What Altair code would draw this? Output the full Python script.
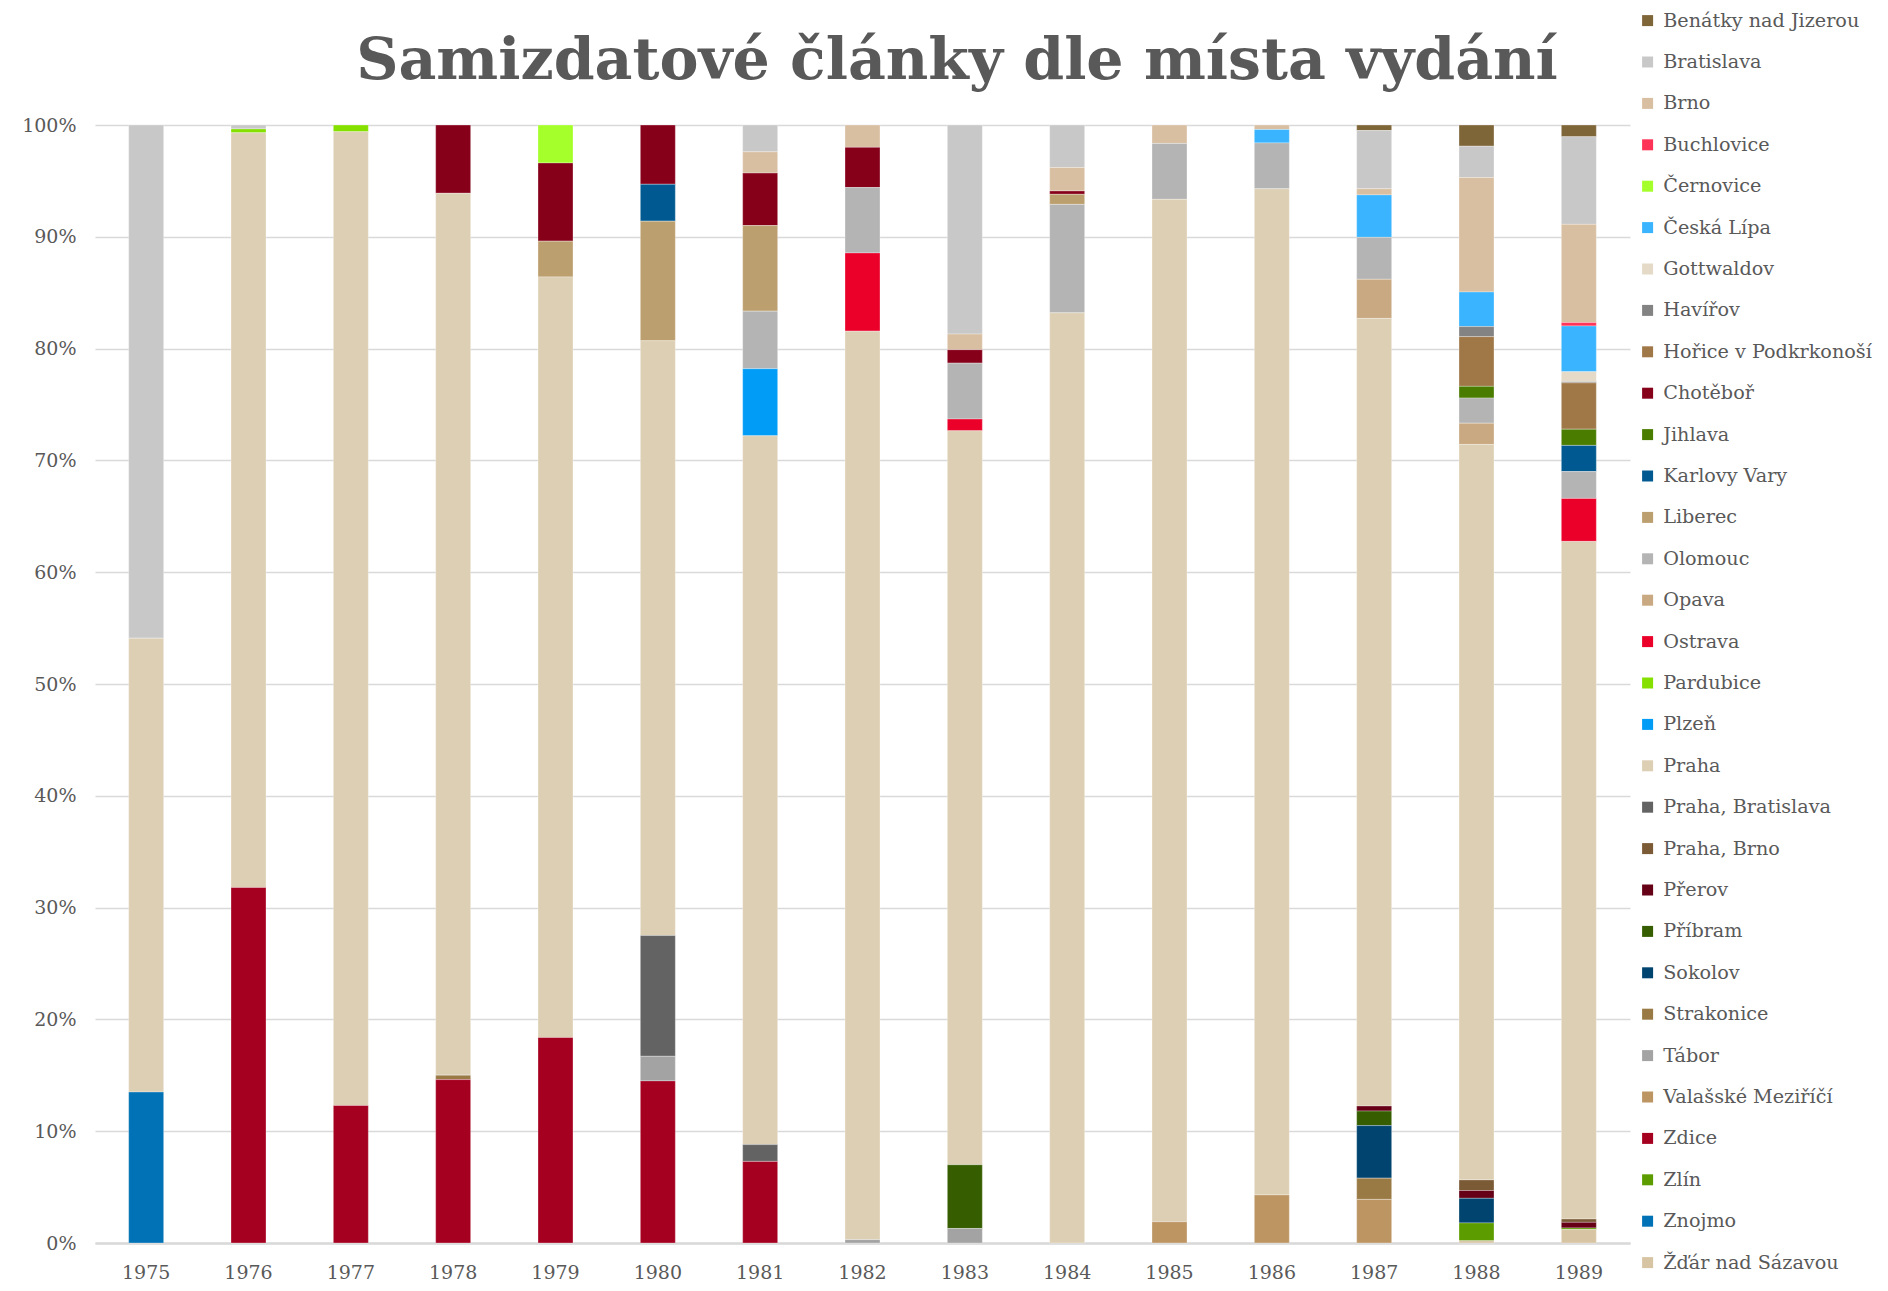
import altair as alt
import pandas as pd

years = [str(y) for y in range(1975, 1990)]

cities = [
    "Benátky nad Jizerou", "Bratislava", "Brno", "Buchlovice", "Černovice",
    "Česká Lípa", "Gottwaldov", "Havířov", "Hořice v Podkrkonoší", "Chotěboř",
    "Jihlava", "Karlovy Vary", "Liberec", "Olomouc", "Opava", "Ostrava",
    "Pardubice", "Plzeň", "Praha", "Praha, Bratislava", "Praha, Brno",
    "Přerov", "Příbram", "Sokolov", "Strakonice", "Tábor",
    "Valašské Meziříčí", "Zdice", "Zlín", "Znojmo", "Žďár nad Sázavou",
]

colors = [
    "#7F6639", "#C8C8C8", "#D8BFA2", "#FF3358", "#A5FF2A",
    "#3AB4FF", "#E5DAC7", "#838383", "#A07848", "#86001A",
    "#4A7C00", "#005A91", "#BC9F6E", "#B3B4B3", "#C8A982", "#EB002A",
    "#85E000", "#009CF6", "#DDCFB4", "#636363", "#7B5B36",
    "#650016", "#365E00", "#00446F", "#997A45", "#A3A3A3",
    "#BC9563", "#A60021", "#5C9C00", "#0072B5", "#D7C4A3",
]

title_text = "Samizdatové články dle místa vydání"

# share of articles (%) per year 1975..1989
benatky      = [0, 0, 0, 0, 0, 0, 0, 0, 0, 0, 0, 0, 0.5, 1.9, 1.05]
bratislava   = [45.9, 0.35, 0, 0, 0, 0, 2.4, 0, 18.7, 3.8, 0, 0, 5.2, 2.8, 7.85]
brno         = [0, 0, 0, 0, 0, 0, 1.9, 2.0, 1.4, 2.1, 1.65, 0.4, 0.55, 10.25, 8.8]
buchlovice   = [0, 0, 0, 0, 0, 0, 0, 0, 0, 0, 0, 0, 0, 0, 0.3]
cernovice    = [0, 0, 0, 0, 3.4, 0, 0, 0, 0, 0, 0, 0, 0, 0, 0]
ceska_lipa   = [0, 0, 0, 0, 0, 0, 0, 0, 0, 0, 0, 1.2, 3.8, 3.1, 4.1]
gottwaldov   = [0, 0, 0, 0, 0, 0, 0, 0, 0, 0, 0, 0, 0, 0, 0.9]
havirov      = [0, 0, 0, 0, 0, 0, 0, 0, 0, 0, 0, 0, 0, 0.9, 0.1]
horice       = [0, 0, 0, 0, 0, 0, 0, 0, 0, 0, 0, 0, 0, 4.45, 4.15]
chotebor     = [0, 0, 0, 6.1, 7.0, 5.3, 4.7, 3.6, 1.2, 0.3, 0, 0, 0, 0, 0]
jihlava      = [0, 0, 0, 0, 0, 0, 0, 0, 0, 0, 0, 0, 0, 1.05, 1.45]
karlovy_vary = [0, 0, 0, 0, 0, 3.3, 0, 0, 0, 0, 0, 0, 0, 0, 2.35]
liberec      = [0, 0, 0, 0, 3.2, 10.7, 7.65, 0, 0, 0.9, 0, 0, 0, 0, 0]
olomouc      = [0, 0, 0, 0, 0, 0, 5.15, 5.85, 5.0, 9.7, 5.0, 4.1, 3.75, 2.25, 2.4]
opava        = [0, 0, 0, 0, 0, 0, 0, 0, 0, 0, 0, 0, 3.5, 1.9, 0]
ostrava      = [0, 0, 0, 0, 0, 0, 0, 7.0, 1.05, 0, 0, 0, 0, 0, 3.85]
pardubice    = [0, 0.35, 0.6, 0, 0, 0, 0, 0, 0, 0, 0, 0, 0, 0, 0]
plzen        = [0, 0, 0, 0, 0, 0, 6.0, 0, 0, 0, 0, 0, 0, 0, 0]
praha        = [40.6, 67.5, 87.1, 78.8, 68.1, 53.2, 63.4, 81.3, 65.65, 83.2, 91.45, 90.0, 70.45, 65.85, 60.7]
praha_brat   = [0, 0, 0, 0, 0, 10.8, 1.5, 0, 0, 0, 0, 0, 0, 0, 0]
praha_brno   = [0, 0, 0, 0, 0, 0, 0, 0, 0, 0, 0, 0, 0, 0.95, 0.3]
prerov       = [0, 0, 0, 0, 0, 0, 0, 0, 0, 0, 0, 0, 0.45, 0.7, 0.5]
pribram      = [0, 0, 0, 0, 0, 0, 0, 0, 5.7, 0, 0, 0, 1.3, 0, 0]
sokolov      = [0, 0, 0, 0, 0, 0, 0, 0, 0, 0, 0, 0, 4.7, 2.2, 0]
strakonice   = [0, 0, 0, 0.4, 0, 0, 0, 0, 0, 0, 0, 0, 1.9, 0, 0]
tabor        = [0, 0, 0, 0, 0, 2.2, 0, 0.3, 1.3, 0, 0, 0, 0, 0, 0]
valasske     = [0, 0, 0, 0, 0, 0, 0, 0, 0, 0, 1.9, 4.3, 3.9, 0, 0]
zdice        = [0, 31.8, 12.3, 14.6, 18.4, 14.5, 7.3, 0, 0, 0, 0, 0, 0, 0, 0]
zlin         = [0, 0, 0, 0, 0, 0, 0, 0, 0, 0, 0, 0, 0, 1.6, 0.15]
znojmo       = [13.5, 0, 0, 0, 0, 0, 0, 0, 0, 0, 0, 0, 0, 0, 0]
zdar         = [0, 0, 0, 0, 0, 0, 0, 0, 0, 0, 0, 0, 0, 0.2, 1.2]

series = [
    benatky, bratislava, brno, buchlovice, cernovice, ceska_lipa, gottwaldov,
    havirov, horice, chotebor, jihlava, karlovy_vary, liberec, olomouc, opava,
    ostrava, pardubice, plzen, praha, praha_brat, praha_brno, prerov, pribram,
    sokolov, strakonice, tabor, valasske, zdice, zlin, znojmo, zdar,
]

rows = []
for rank, (city, vals) in enumerate(zip(cities, series)):
    for year, v in zip(years, vals):
        if v > 0:
            rows.append({"year": year, "city": city, "value": v, "rank": rank})
df = pd.DataFrame(rows)

FONT = "DejaVu Serif"
TXT = "#595959"

bars = (
    alt.Chart(df)
    .mark_bar(stroke="#FFFFFF", strokeWidth=0.6, strokeOpacity=0.5)
    .encode(
        x=alt.X(
            "year:N",
            sort=years,
            scale=alt.Scale(paddingInner=0.658, paddingOuter=0.329),
            axis=alt.Axis(
                title=None, labelAngle=0, ticks=False, grid=False,
                domainColor="#D9D9D9", domainWidth=2.5,
                labelFont=FONT, labelFontSize=19, labelColor=TXT, labelPadding=20,
            ),
        ),
        y=alt.Y(
            "value:Q",
            stack="normalize",
            scale=alt.Scale(domain=[0, 1], nice=False),
            axis=alt.Axis(
                title=None, format=".0%", values=[i / 10 for i in range(11)],
                domain=False, ticks=False, gridColor="#D9D9D9", gridWidth=1.5,
                labelFont=FONT, labelFontSize=19, labelColor=TXT, labelPadding=19,
            ),
        ),
        color=alt.Color(
            "city:N",
            scale=alt.Scale(domain=cities, range=colors),
            legend=alt.Legend(
                title=None, orient="none", legendX=1543, legendY=-114,
                symbolType="square", symbolSize=121, symbolStrokeWidth=0,
                symbolLimit=50,
                labelFont=FONT, labelFontSize=19.2, labelColor=TXT,
                labelLimit=320, labelOffset=6, rowPadding=21.4, padding=0,
            ),
        ),
        order=alt.Order("rank:Q", sort="descending"),
    )
)

title = (
    alt.Chart(pd.DataFrame({"t": [title_text]}))
    .mark_text(
        font=FONT, fontSize=58.5, fontWeight="bold", color=TXT,
        align="center", baseline="alphabetic",
    )
    .encode(text="t:N", x=alt.value(862), y=alt.value(-46))
)

chart = (
    alt.layer(bars, title)
    .properties(
        width=1535,
        height=1118,
        autosize=alt.AutoSizeParams(type="none"),
        padding={"left": 87, "top": 117, "right": 250, "bottom": 42},
    )
    .configure_view(stroke=None)
)

chart.save("out.html", embed_options={"renderer": "svg", "actions": False})
